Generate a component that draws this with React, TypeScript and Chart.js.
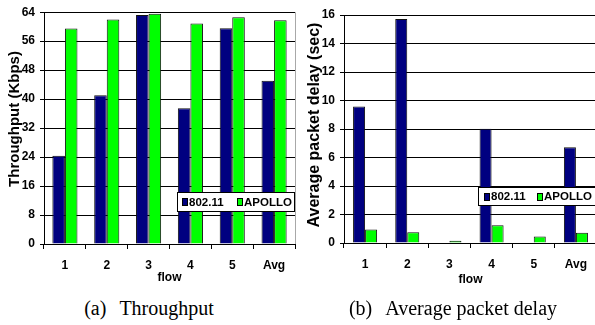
import React, { useEffect, useRef } from "react";
import { Chart, registerables } from "chart.js";

Chart.register(...registerables);

// ---- data ----
const categories = ["1", "2", "3", "4", "5", "Avg"];
const seriesNames = ["802.11", "APOLLO"];
const throughput80211 = [24.4, 41.1, 63.2, 37.5, 59.6, 45.1];
const throughputApollo = [59.5, 62.0, 63.6, 60.9, 62.6, 61.8];
const delay80211 = [9.58, 15.72, 0.04, 8.02, 0.04, 6.72];
const delayApollo = [0.95, 0.76, 0.15, 1.24, 0.46, 0.72];
const throughputAxis = { max: 64, step: 8 };
const delayAxis = { max: 16, step: 2 };
const xTitle = "flow";
const leftTitle = "Throughput (Kbps)";
const rightTitle = "Average packet delay (sec)";
const captionA = ["(a)", "Throughput"];
const captionB = ["(b)", "Average packet delay"];

const NARROW = "'Liberation Sans', Arial, sans-serif";
const SANS = "'Liberation Sans', Arial, sans-serif";
const SERIF = "'Liberation Serif', 'Times New Roman', serif";
const BLUE = "#000080";
const GREEN = "#00ff00";

const boxLegend = {
  id: "boxLegend",
  afterDraw(chart: any, _args: any, opts: any) {
    const { ctx, chartArea } = chart;
    const x = Math.round(chartArea.left + opts.dx);
    const y = Math.round(chartArea.top + opts.dy);
    const w = opts.w;
    const h = opts.h;
    ctx.save();
    ctx.fillStyle = "#fff";
    ctx.fillRect(x, y, w, h);
    ctx.strokeStyle = "#000";
    ctx.lineWidth = 1;
    ctx.strokeRect(x + 0.5, y + 0.5, w - 1, h - 1);
    ctx.font = "bold 11.5px " + NARROW;
    ctx.textBaseline = "middle";
    ctx.textAlign = "left";
    chart.data.datasets.forEach((ds: any, i: number) => {
      const sx = x + opts.items[i];
      ctx.fillStyle = ds.backgroundColor;
      ctx.fillRect(sx, y + 6, 6, 8);
      ctx.strokeStyle = "#000";
      ctx.strokeRect(sx + 0.5, y + 6.5, 5, 7);
      ctx.fillStyle = "#000";
      ctx.fillText(ds.label, sx + 7, y + h / 2 + 0.5);
    });
    ctx.restore();
  },
};

const sideTitle = {
  id: "sideTitle",
  afterDraw(chart: any, _args: any, opts: any) {
    const { ctx } = chart;
    ctx.save();
    ctx.translate(opts.x, opts.y);
    ctx.rotate(-Math.PI / 2);
    ctx.font = "bold " + opts.size + "px " + SANS;
    ctx.fillStyle = "#000";
    ctx.textAlign = "center";
    ctx.textBaseline = "middle";
    ctx.fillText(opts.text, 0, 0);
    ctx.restore();
  },
};

const rightBorder = {
  id: "rightBorder",
  afterDraw(chart: any, _args: any, opts: any) {
    if (!opts.show) return;
    const { ctx, chartArea } = chart;
    ctx.save();
    ctx.strokeStyle = "#a8a8a8";
    ctx.lineWidth = 1;
    const xx = Math.round(chartArea.right) + 0.5;
    ctx.beginPath();
    ctx.moveTo(xx, chartArea.top);
    ctx.lineTo(xx, chartArea.bottom);
    ctx.stroke();
    ctx.restore();
  },
};

function makeConfig(p: {
  a: number[];
  b: number[];
  axis: { max: number; step: number };
  padTop: number;
  padRight: number;
  yWidth: number;
  xHeight: number;
  titlePadBottom: number;
  catPct: number;
  legend: any;
  side: any;
  border: boolean;
}): any {
  const tickFont = { family: NARROW, size: 12, weight: "bold" as const };
  return {
    type: "bar",
    data: {
      labels: categories,
      datasets: [
        {
          label: seriesNames[0],
          data: p.a,
          backgroundColor: BLUE,
          borderColor: "#111",
          borderWidth: 1,
          barPercentage: 1,
          categoryPercentage: p.catPct,
        },
        {
          label: seriesNames[1],
          data: p.b,
          backgroundColor: GREEN,
          borderColor: "#111",
          borderWidth: 1,
          barPercentage: 1,
          categoryPercentage: p.catPct,
        },
      ],
    },
    options: {
      responsive: false,
      animation: false,
      devicePixelRatio: 1,
      layout: { padding: { top: p.padTop, right: p.padRight, bottom: 0, left: 0 } },
      plugins: {
        legend: { display: false },
        tooltip: { enabled: false },
        boxLegend: p.legend,
        sideTitle: p.side,
        rightBorder: { show: p.border },
      },
      scales: {
        x: {
          grid: {
            offset: true,
            drawOnChartArea: false,
            drawTicks: true,
            tickLength: 5,
            color: "#000",
          },
          border: { display: true, color: "#000", width: 1 },
          ticks: { font: tickFont, color: "#000", padding: 9, maxRotation: 0 },
          title: {
            display: true,
            text: xTitle,
            font: { family: NARROW, size: 12, weight: "bold" },
            color: "#000",
            padding: { top: 0, bottom: p.titlePadBottom },
          },
          afterFit(scale: any) {
            scale.height = p.xHeight;
          },
        },
        y: {
          min: 0,
          max: p.axis.max,
          grid: { color: "#000", lineWidth: 1, drawTicks: true, tickLength: 4 },
          border: { display: true, color: "#000", width: 1 },
          ticks: { stepSize: p.axis.step, font: tickFont, color: "#000", padding: 5 },
          afterFit(scale: any) {
            scale.width = p.yWidth;
          },
        },
      },
    },
    plugins: [rightBorder, boxLegend, sideTitle],
  };
}

function Panel(props: { cfg: any; left: number; width: number; height: number }) {
  const ref = useRef<HTMLCanvasElement | null>(null);
  useEffect(() => {
    if (!ref.current) return;
    const chart = new Chart(ref.current, props.cfg);
    return () => chart.destroy();
  }, []);
  return (
    <canvas
      ref={ref}
      width={props.width}
      height={props.height}
      style={{ position: "absolute", left: props.left, top: 0, width: props.width, height: props.height }}
    />
  );
}

const captionStyle: React.CSSProperties = {
  position: "absolute",
  top: 296,
  fontFamily: SERIF,
  fontSize: 20,
  lineHeight: "24px",
  color: "#000",
  textAlign: "center",
  whiteSpace: "nowrap",
};

export default function App() {
  const leftCfg = makeConfig({
    a: throughput80211,
    b: throughputApollo,
    axis: throughputAxis,
    padTop: 12,
    padRight: 5,
    yWidth: 44,
    xHeight: 46,
    titlePadBottom: 5,
    catPct: 0.6,
    legend: { dx: 133, dy: 180, w: 118, h: 20, items: [5, 60] },
    side: { x: 15, y: 119, size: 15, text: leftTitle },
    border: true,
  });
  const rightCfg = makeConfig({
    a: delay80211,
    b: delayApollo,
    axis: delayAxis,
    padTop: 15,
    padRight: 3,
    yWidth: 46,
    xHeight: 47,
    titlePadBottom: 3,
    catPct: 0.57,
    legend: { dx: 134, dy: 172, w: 118, h: 19, items: [6, 59] },
    side: { x: 17, y: 125, size: 16, text: rightTitle },
    border: false,
  });
  return (
    <div
      style={{
        position: "fixed",
        left: 0,
        top: 0,
        width: 595,
        height: 325,
        overflow: "hidden",
        background: "#fff",
      }}
    >
      <Panel cfg={leftCfg} left={0} width={300} height={290} />
      <Panel cfg={rightCfg} left={298} width={302} height={290} />
      <div style={{ ...captionStyle, left: 49, width: 200 }}>
        {captionA[0]}
        <span style={{ marginLeft: 13 }}>{captionA[1]}</span>
      </div>
      <div style={{ ...captionStyle, left: 328, width: 250 }}>
        {captionB[0]}
        <span style={{ marginLeft: 13 }}>{captionB[1]}</span>
      </div>
    </div>
  );
}
